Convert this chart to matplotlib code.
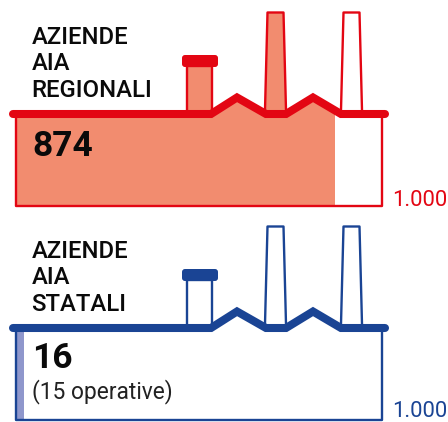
import matplotlib
matplotlib.use("Agg")
import matplotlib.pyplot as plt
from matplotlib.patches import Polygon, FancyBboxPatch

titles = [["AZIENDE", "AIA", "REGIONALI"], ["AZIENDE", "AIA", "STATALI"]]
values = ["874", "16"]
notes = ["", "(15 operative)"]
# width of the filled part (out of 1000)
filled = [871, 22]
total = 1000
total_label = "1.000"
line_colors = ["#E30613", "#1A4494"]
fill_colors = ["#F28C6F", "#8F97CC"]
panel_offset = [0, 214]

# factory outline, pixels of the top panel
left, right, bottom, roof = 16, 382, 206, 114
peak = 97.5
roof_x = [13, 211, 237, 266, 286, 313, 341, 385]
roof_y = [roof, roof, peak, roof, roof, peak, roof, roof]
small_x = [187, 187, 212, 212]
small_y = [110, 66, 66, 110]
tall1_x = [265, 267.5, 283.5, 286]
tall2_x = [341, 343.5, 359.5, 362]
tall_y = [110, 12.5, 12.5, 110]

plt.rcParams['font.family'] = ['Roboto', 'DejaVu Sans']
fig = plt.figure(figsize=(4.48, 4.22), dpi=100)
ax = fig.add_axes([0, 0, 1, 1])
ax.set_xlim(0, 448)
ax.set_ylim(422, 0)
ax.axis("off")

for i in range(2):
    off = panel_offset[i]
    c = line_colors[i]

    # filled area, cut to the building shape
    w = (right - left) * filled[i] / total
    bar = ax.bar(left, bottom - roof + 20, width=w, bottom=roof - 20 + off,
                 align="edge", color=fill_colors[i], lw=0, zorder=1)[0]
    body_x = [left] + roof_x[1:-1] + [right, right, left]
    body_y = [roof] + roof_y[1:-1] + [roof, bottom, bottom]
    clip = Polygon(list(zip(body_x, [y + off for y in body_y])), transform=ax.transData)
    bar.set_clip_path(clip)

    # chimneys
    if i == 0:
        ax.fill(small_x, small_y, color=fill_colors[0], lw=0, zorder=1)
        ax.fill(tall1_x, tall_y, color=fill_colors[0], lw=0, zorder=1)
    ax.plot(small_x, [y + off for y in small_y], color=c, lw=1.7, zorder=2)
    ax.plot(tall1_x, [y + off for y in tall_y], color=c, lw=1.7, zorder=2)
    ax.plot(tall2_x, [y + off for y in tall_y], color=c, lw=1.7, zorder=2)
    ax.add_patch(FancyBboxPatch((185, 58 + off), 30, 6, boxstyle="round,pad=3,rounding_size=3",
                                fc=c, ec="none", zorder=3))

    # walls and roof
    ax.plot([left, left, right, right], [roof + off, bottom + off, bottom + off, roof + off],
            color=c, lw=1.7, zorder=3)
    ax.plot(roof_x, [y + off for y in roof_y], color=c, lw=5.8,
            solid_capstyle="round", solid_joinstyle="miter", zorder=4)

    # texts
    for k, t in enumerate(titles[i]):
        ax.text(31.5, [43.5, 70.5, 97][k] + off, t, fontsize=17.2, fontweight="medium",
                color="#0A0A0A", va="baseline", zorder=5)
    ax.text(32, [156, 154][i] + off, values[i], fontsize=25.5, fontweight="bold",
            color="#0A0A0A", va="baseline", zorder=5)
    if notes[i]:
        ax.text(32, 184 + off, notes[i], fontsize=16.4, color="#222222", va="baseline", zorder=5)
    ax.text(392, [206, 203][i] + off, total_label, fontsize=15.8, color=c, va="baseline", zorder=5)

fig.savefig("out.png", dpi=100)
